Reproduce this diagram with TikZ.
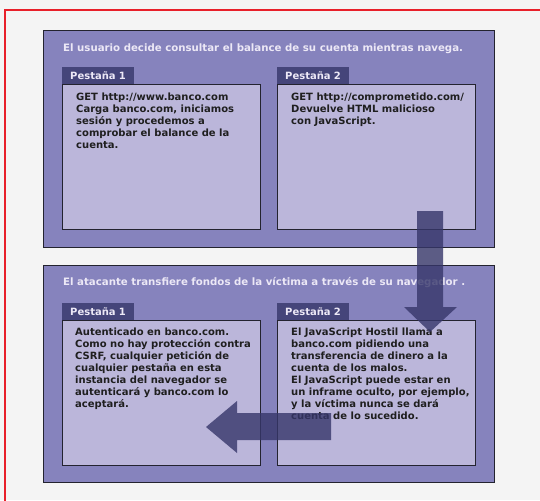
\documentclass[tikz,border=0pt]{standalone}
\usepackage{fontspec}
\setmainfont{DejaVu Sans}
\usepackage{xcolor}
\usetikzlibrary{positioning}
\definecolor{fondo}{HTML}{F4F4F4}
\definecolor{marco}{HTML}{E8202A}
\definecolor{panel}{HTML}{8683BD}
\definecolor{caja}{HTML}{BBB6DA}
\definecolor{pestana}{HTML}{45457A}
\definecolor{titulo}{HTML}{ECE8F6}
\definecolor{flecha}{HTML}{36366A}
\definecolor{borde}{HTML}{23232F}
\tikzset{
  panelbox/.style={draw=borde, line width=0.8pt, fill=panel, inner sep=0pt,
    anchor=north west, minimum width=451pt, minimum height=217pt},
  tabbox/.style={draw=borde, line width=0.8pt, fill=caja, inner sep=0pt,
    anchor=north west, minimum width=198pt, minimum height=145pt},
  tablabel/.style={fill=pestana, text=titulo, font=\bfseries\fontsize{10}{12}\selectfont,
    anchor=south west, text width=56pt, align=left, inner xsep=8pt,
    inner ysep=0pt, minimum height=17pt},
  paneltitle/.style={text=titulo, font=\bfseries\fontsize{10.2}{12}\selectfont,
    anchor=west, inner sep=0pt},
  boxtext/.style={text=black!88, font=\bfseries\fontsize{10}{12}\selectfont,
    anchor=north west, align=left, inner sep=0pt},
  bigarrow/.style={fill=flecha, opacity=0.8}
}
\begin{document}
\begin{tikzpicture}[x=1pt, y=-1pt]
    \useasboundingbox (0,0) rectangle (540,500);
    \fill[fondo] (0,0) rectangle (540,500);
    \draw[marco, line width=2pt] (5,10) rectangle (560,520);

    % Escena 1: el usuario navega
    \node[panelbox] (panelA) at (43,30) {};
    \node[paneltitle] (titleA) at (63,49)
        {El usuario decide consultar el balance de su cuenta mientras navega.};
    \node[tabbox] (boxA1) at (62,84) {};
    \node[tabbox] (boxA2) at (277,84) {};
    \node[tablabel] (tabA1) at (boxA1.north west) {Pestaña 1};
    \node[tablabel] (tabA2) at (boxA2.north west) {Pestaña 2};
    \node[boxtext] (textA1) at (76,93) {GET http://www.banco.com\\
        Carga banco.com, iniciamos\\ sesión y procedemos a\\
        comprobar el balance de la\\ cuenta.};
    \node[boxtext] (textA2) at (291,93) {GET http://comprometido.com/\\
        Devuelve HTML malicioso\\ con JavaScript.};

    % Escena 2: el atacante transfiere
    \node[panelbox] (panelB) at (43,265) {};
    \node[paneltitle] (titleB) at (63,283)
        {El atacante transfiere fondos de la víctima a través de su navegador .};
    \node[tabbox] (boxB1) at (62,320) {};
    \node[tabbox] (boxB2) at (277,320) {};
    \node[tablabel] (tabB1) at (boxB1.north west) {Pestaña 1};
    \node[tablabel] (tabB2) at (boxB2.north west) {Pestaña 2};
    \node[boxtext] (textB1) at (75,328) {Autenticado en banco.com.\\
        Como no hay protección contra\\ CSRF, cualquier petición de\\
        cualquier pestaña en esta\\ instancia del navegador se\\
        autenticará y banco.com lo\\ aceptará.};
    \node[boxtext] (textB2) at (291,328) {El JavaScript Hostil llama a\\
        banco.com pidiendo una\\ transferencia de dinero a la\\
        cuenta de los malos.\\ El JavaScript puede estar en\\
        un inframe oculto, por ejemplo,\\ y la víctima nunca se dará\\
        cuenta de lo sucedido.};

    % flechas
    \fill[bigarrow] (417,211) -- (443,211) -- (443,307) -- (457,307)
        -- (430,332) -- (404,307) -- (417,307) -- cycle;
    \fill[bigarrow] (331,413) -- (331,440) -- (237,440) -- (237,453)
        -- (206,427) -- (237,401) -- (237,413) -- cycle;
\end{tikzpicture}
\end{document}
